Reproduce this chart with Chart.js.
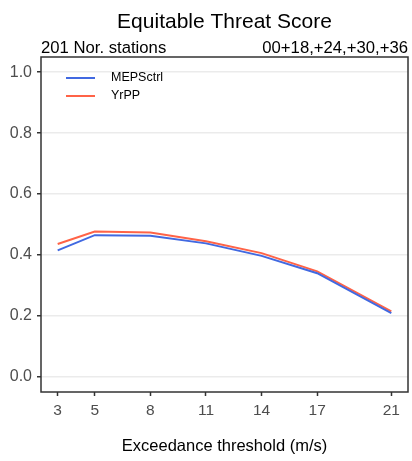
<!DOCTYPE html>
<html>
<head>
<meta charset="utf-8">
<script src="https://cdn.jsdelivr.net/npm/chart.js@4"></script>
<style>
  html, body { margin: 0; padding: 0; background: #fff; }
  #wrap { width: 412px; height: 461px; }
</style>
</head>
<body>
<div id="wrap"><canvas id="etsChart" width="412" height="461"></canvas></div>
<script>
// data
const thresholds = [3, 5, 8, 11, 14, 17, 21];
const mepsctrl = [0.415, 0.465, 0.463, 0.438, 0.397, 0.340, 0.209];
const yrpp = [0.436, 0.477, 0.474, 0.445, 0.406, 0.346, 0.215];
const yTicks = [0.0, 0.2, 0.4, 0.6, 0.8, 1.0];
const titleText = 'Equitable Threat Score';
const subLeft = '201 Nor. stations';
const subRight = '00+18,+24,+30,+36';
const xTitle = 'Exceedance threshold (m/s)';

const FONT = '"Liberation Sans", Arial, Helvetica, sans-serif';

// titles, panel border and the legend inside the panel
const decorPlugin = {
    id: 'decor',
    afterDraw(chart) {
        const ctx = chart.ctx;
        const a = chart.chartArea;
        ctx.save();
        ctx.fillStyle = '#000';
        ctx.textBaseline = 'alphabetic';
        ctx.font = '21px ' + FONT;
        ctx.textAlign = 'center';
        ctx.fillText(titleText, (a.left + a.right) / 2, 28);
        ctx.font = '16.7px ' + FONT;
        ctx.textAlign = 'left';
        ctx.fillText(subLeft, a.left, 53);
        ctx.textAlign = 'right';
        ctx.fillText(subRight, a.right, 53);

        ctx.strokeStyle = '#333';
        ctx.lineWidth = 1.5;
        ctx.strokeRect(a.left, a.top, a.right - a.left, a.bottom - a.top);

        // legend
        const sets = chart.data.datasets;
        ctx.font = '12.5px ' + FONT;
        ctx.textAlign = 'left';
        ctx.textBaseline = 'middle';
        sets.forEach(function(ds, i) {
            const y = a.top + 21 + i * 18;
            ctx.strokeStyle = ds.borderColor;
            ctx.lineWidth = 2;
            ctx.beginPath();
            ctx.moveTo(a.left + 25, y);
            ctx.lineTo(a.left + 54, y);
            ctx.stroke();
            ctx.fillStyle = '#000';
            ctx.fillText(ds.label, a.left + 70, y);
        });
        ctx.restore();
    }
};

const ctx = document.getElementById('etsChart').getContext('2d');
new Chart(ctx, {
    type: 'line',
    data: {
        labels: thresholds,
        datasets: [{
            label: 'MEPSctrl',
            data: thresholds.map((t, i) => ({ x: t, y: mepsctrl[i] })),
            borderColor: '#4169E1',
            borderWidth: 2,
            pointRadius: 0,
            tension: 0
        }, {
            label: 'YrPP',
            data: thresholds.map((t, i) => ({ x: t, y: yrpp[i] })),
            borderColor: '#FF6347',
            borderWidth: 2,
            pointRadius: 0,
            tension: 0
        }]
    },
    options: {
        responsive: false,
        animation: false,
        layout: { padding: { top: 57, right: 4, bottom: 4, left: 0 } },
        plugins: {
            legend: { display: false },
            title: { display: false },
            tooltip: { enabled: false }
        },
        scales: {
            x: {
                type: 'linear',
                min: 2.1,
                max: 21.9,
                afterBuildTicks(scale) {
                    scale.ticks = thresholds.map(v => ({ value: v }));
                },
                afterFit(scale) { scale.height = 65; },
                grid: {
                    drawOnChartArea: false,
                    drawTicks: true,
                    tickLength: 4,
                    tickWidth: 1.5,
                    tickColor: '#333'
                },
                border: { display: false },
                ticks: {
                    color: '#4d4d4d',
                    font: { family: FONT, size: 15.5 },
                    padding: 5,
                    maxRotation: 0,
                    autoSkip: false
                },
                title: {
                    display: true,
                    text: xTitle,
                    color: '#000',
                    font: { family: FONT, size: 16.5 },
                    padding: { top: 0, bottom: 1 }
                }
            },
            y: {
                min: -0.05,
                max: 1.05,
                afterBuildTicks(scale) {
                    scale.ticks = yTicks.map(v => ({ value: v }));
                },
                afterFit(scale) { scale.width = 41; },
                grid: {
                    color: '#ebebeb',
                    lineWidth: 1.5,
                    drawTicks: true,
                    tickLength: 4,
                    tickWidth: 1.5,
                    tickColor: '#333'
                },
                border: { display: false },
                ticks: {
                    color: '#4d4d4d',
                    font: { family: FONT, size: 16 },
                    padding: 5,
                    callback: v => v.toFixed(1)
                }
            }
        }
    },
    plugins: [decorPlugin]
});
</script>
</body>
</html>
